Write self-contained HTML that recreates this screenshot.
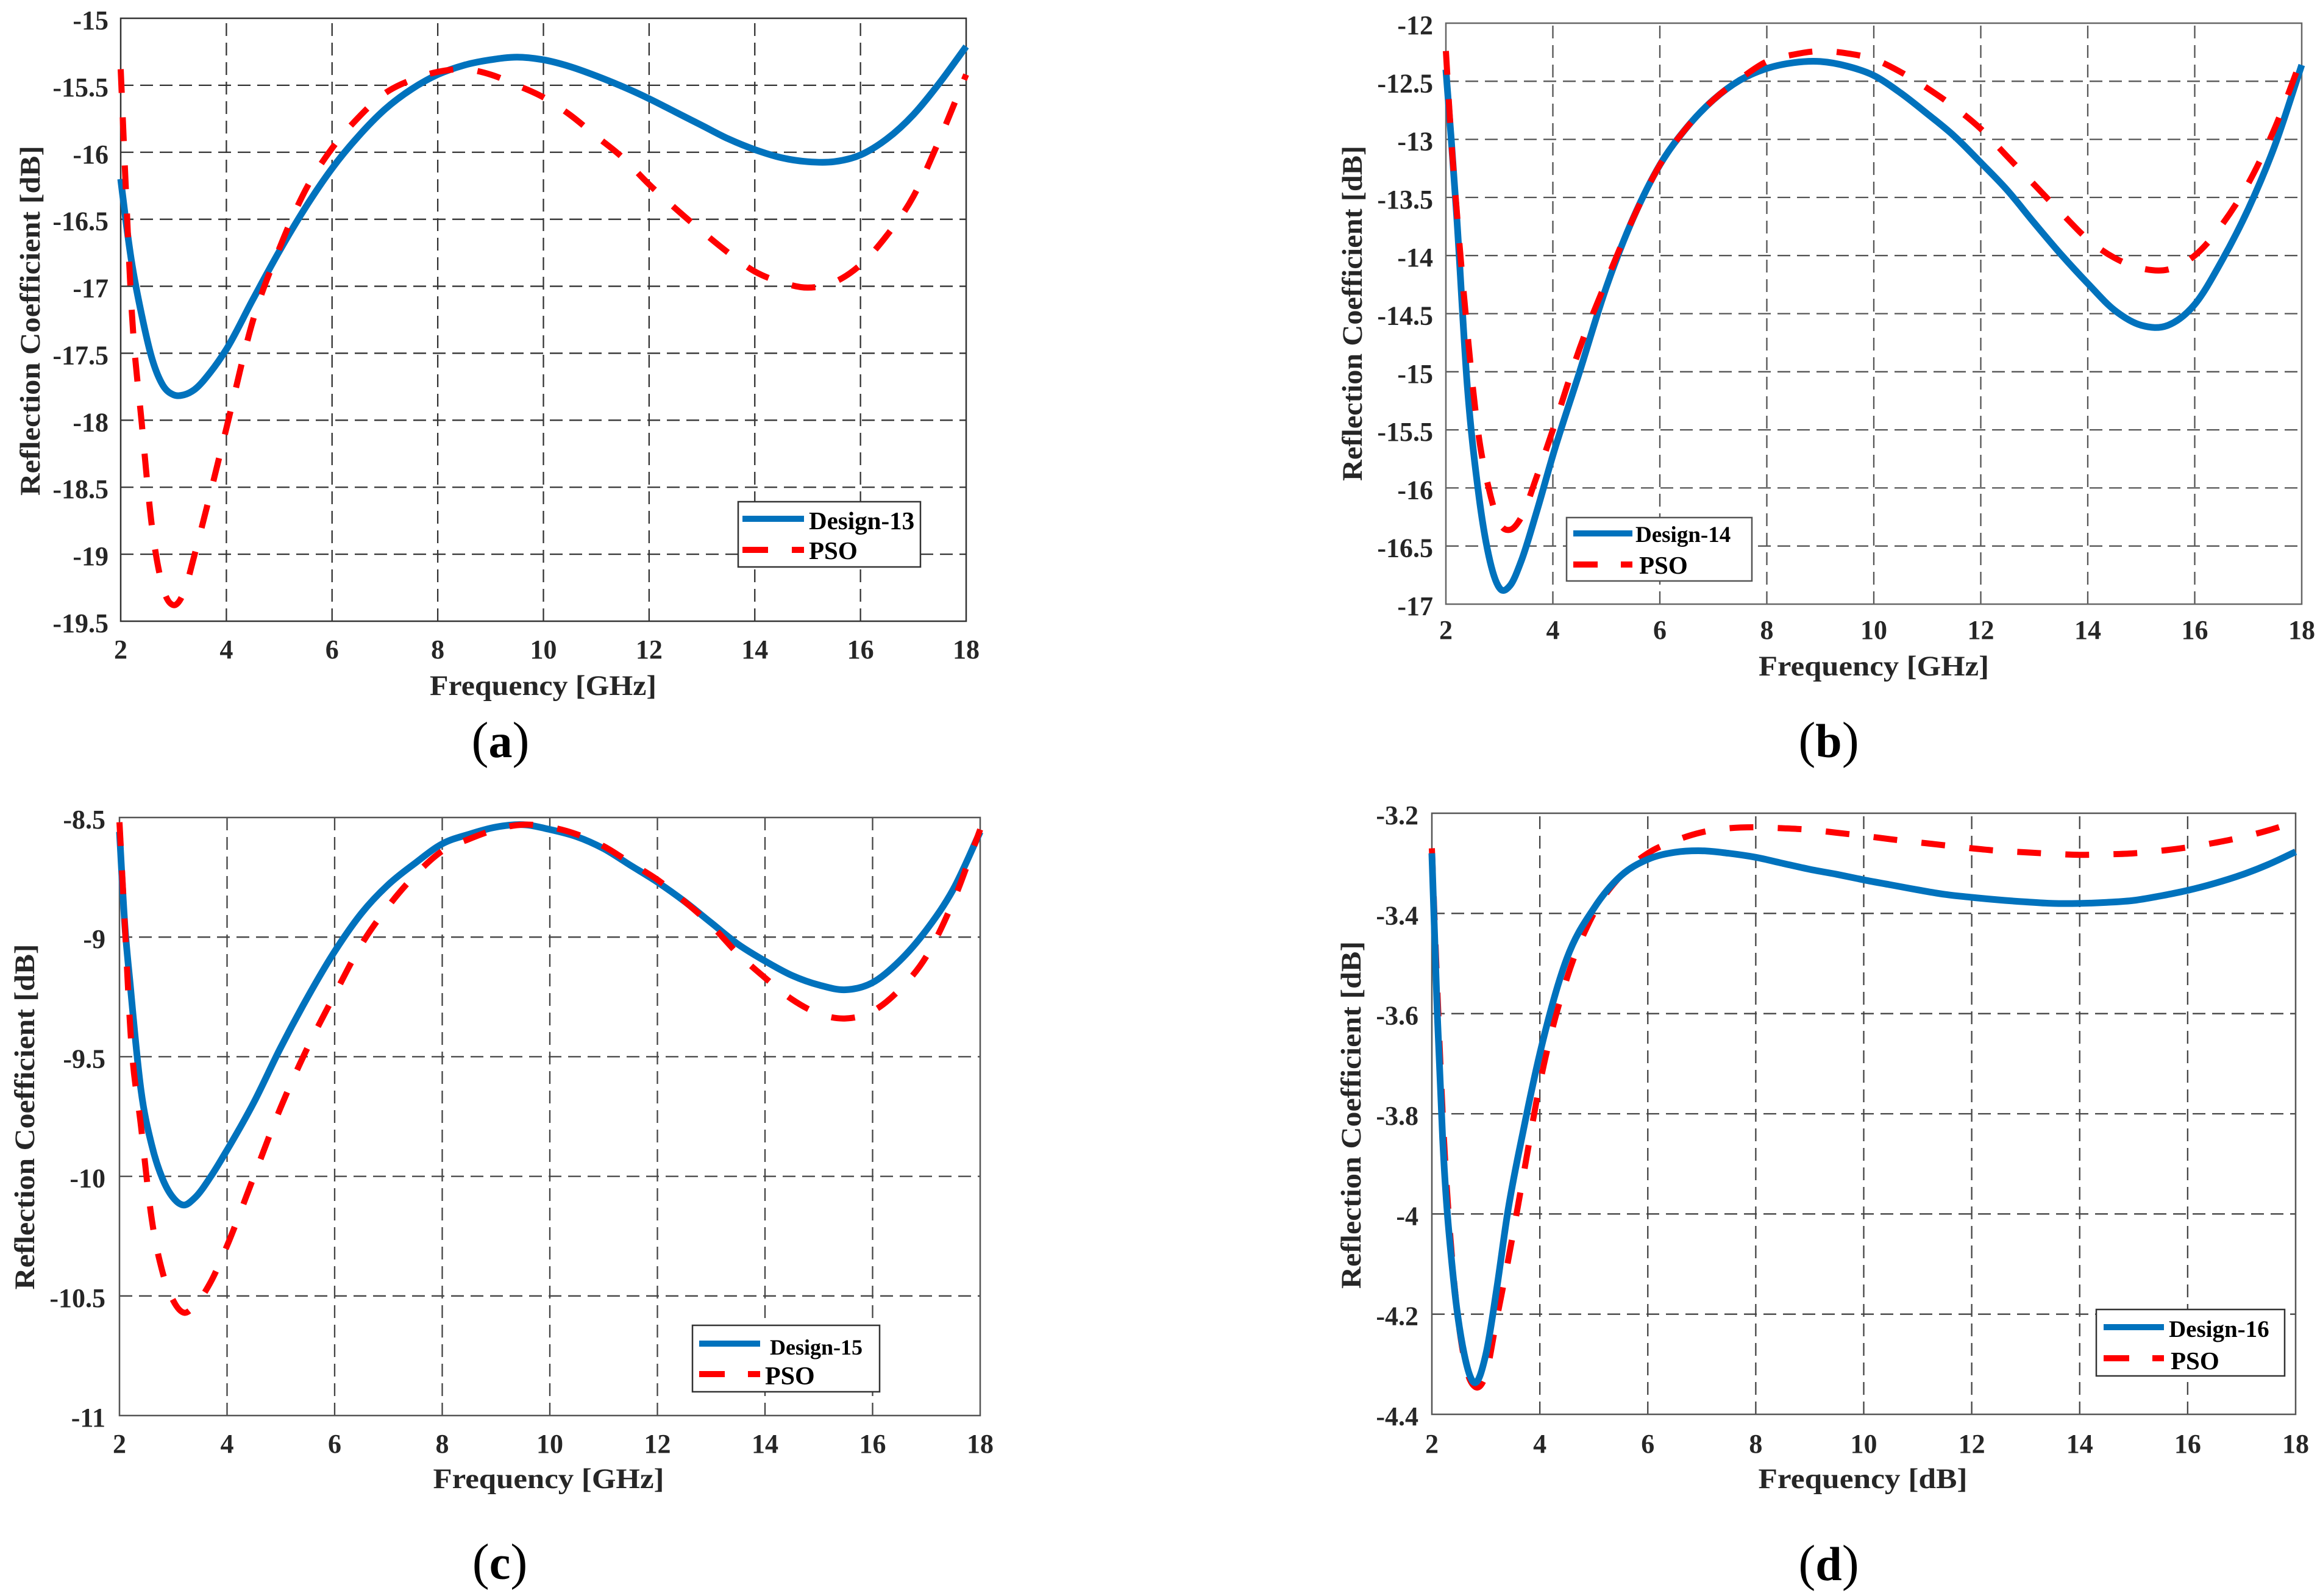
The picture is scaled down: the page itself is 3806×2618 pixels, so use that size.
<!DOCTYPE html>
<html lang="en">
<head>
<meta charset="utf-8">
<title>Reflection coefficient: Designs 13–16 vs PSO</title>
<style>
html,body{margin:0;padding:0;background:#fff;}
svg{display:block;}
text{font-family:"Liberation Serif",serif;font-weight:bold;fill:#262626;}
.tick{font-size:44px;}
.axis-title{font-size:47px;}
.legend-text{fill:#000;}
.caption{font-size:84px;font-weight:normal;fill:#000;text-anchor:middle;}
.caption tspan{font-weight:bold;fill:#000;font-size:78px;}
</style>
</head>
<body>
<svg id="figure" xmlns="http://www.w3.org/2000/svg" width="3806" height="2618" viewBox="0 0 3806 2618">
<rect x="0" y="0" width="3806" height="2618" fill="#fff"/>

<g id="panel-a"></g>
<g>
  <text class="axis-title" x="891" y="1140" text-anchor="middle" textLength="372" lengthAdjust="spacingAndGlyphs">Frequency [GHz]</text>
  <text class="axis-title" transform="translate(65,526) rotate(-90)" text-anchor="middle" textLength="574" lengthAdjust="spacingAndGlyphs">Reflection Coefficient [dB]</text>
  <g>
    <rect x="1211" y="823" width="299" height="107" fill="#fff" stroke="#333" stroke-width="2.5"/>
    <line x1="1218" x2="1319" y1="851" y2="851" stroke="#0072BD" stroke-width="10"/>
    <line x1="1218" x2="1319" y1="902" y2="902" stroke="#FF0000" stroke-width="10" stroke-dasharray="42 39"/>
    <text class="legend-text" x="1327" y="868" font-size="41">Design-13</text>
    <text class="legend-text" x="1327" y="917" font-size="41">PSO</text>
  </g>
  <text class="caption" x="821" y="1242">(<tspan>a</tspan>)</text>
</g>

<g id="panel-b"></g>
<g>
  <text class="axis-title" x="3074" y="1108" text-anchor="middle" textLength="378" lengthAdjust="spacingAndGlyphs">Frequency [GHz]</text>
  <text class="axis-title" transform="translate(2234,514) rotate(-90)" text-anchor="middle" textLength="550" lengthAdjust="spacingAndGlyphs">Reflection Coefficient [dB]</text>
  <g>
    <rect x="2570" y="849" width="304" height="104" fill="#fff" stroke="#555" stroke-width="2.5"/>
    <line x1="2581" x2="2678" y1="875" y2="875" stroke="#0072BD" stroke-width="10"/>
    <line x1="2581" x2="2678" y1="926" y2="926" stroke="#FF0000" stroke-width="10" stroke-dasharray="40 38"/>
    <text class="legend-text" x="2683" y="889" font-size="37">Design-14</text>
    <text class="legend-text" x="2689" y="941" font-size="41">PSO</text>
  </g>
  <text class="caption" x="3000" y="1242">(<tspan>b</tspan>)</text>
</g>

<g id="panel-c"></g>
<g>
  <text class="axis-title" x="900" y="2441" text-anchor="middle" textLength="379" lengthAdjust="spacingAndGlyphs">Frequency [GHz]</text>
  <text class="axis-title" transform="translate(56,1832) rotate(-90)" text-anchor="middle" textLength="567" lengthAdjust="spacingAndGlyphs">Reflection Coefficient [dB]</text>
  <g>
    <rect x="1136" y="2174" width="307" height="109" fill="#fff" stroke="#333" stroke-width="2.5"/>
    <line x1="1147" x2="1247" y1="2204" y2="2204" stroke="#0072BD" stroke-width="10"/>
    <line x1="1147" x2="1247" y1="2254" y2="2254" stroke="#FF0000" stroke-width="10" stroke-dasharray="42 38"/>
    <text class="legend-text" x="1263" y="2222" font-size="36">Design-15</text>
    <text class="legend-text" x="1255" y="2271" font-size="42">PSO</text>
  </g>
  <text class="caption" x="820" y="2590">(<tspan>c</tspan>)</text>
</g>

<g id="panel-d"></g>
<g>
  <text class="axis-title" x="3056" y="2441" text-anchor="middle" textLength="343" lengthAdjust="spacingAndGlyphs">Frequency [dB]</text>
  <text class="axis-title" transform="translate(2232,1829) rotate(-90)" text-anchor="middle" textLength="570" lengthAdjust="spacingAndGlyphs">Reflection Coefficient [dB]</text>
  <g>
    <rect x="3439" y="2148" width="309" height="109" fill="#fff" stroke="#333" stroke-width="2.5"/>
    <line x1="3451" x2="3550" y1="2177" y2="2177" stroke="#0072BD" stroke-width="10"/>
    <line x1="3451" x2="3550" y1="2228" y2="2228" stroke="#FF0000" stroke-width="10" stroke-dasharray="42 38"/>
    <text class="legend-text" x="3558" y="2193" font-size="39">Design-16</text>
    <text class="legend-text" x="3561" y="2246" font-size="41">PSO</text>
  </g>
  <text class="caption" x="3000" y="2592">(<tspan>d</tspan>)</text>
</g>
</svg>

<script>
// ---- Data ----
const frequencies = [2,2.1,2.2,2.4,2.6,2.8,3,3.2,3.4,3.7,4,4.5,5,5.5,6,6.5,7,7.5,8,8.5,9,9.5,10,10.5,11,11.5,12,12.5,13,13.5,14,14.5,15,15.5,16,16.5,17,17.5,18];
const xTickLabels = [2,4,6,8,10,12,14,16,18];

const yTicksA = ["-15","-15.5","-16","-16.5","-17","-17.5","-18","-18.5","-19","-19.5"];
const design13 = [-16.2,-16.52,-16.8,-17.22,-17.55,-17.74,-17.81,-17.81,-17.77,-17.64,-17.47,-17.1,-16.74,-16.41,-16.12,-15.88,-15.68,-15.53,-15.42,-15.35,-15.31,-15.29,-15.31,-15.36,-15.43,-15.51,-15.6,-15.7,-15.8,-15.9,-15.98,-16.04,-16.07,-16.07,-16.02,-15.9,-15.72,-15.48,-15.21];
const psoA = [-15.38,-16.3,-17.12,-18.03,-18.82,-19.25,-19.38,-19.28,-19.0,-18.54,-18.06,-17.26,-16.72,-16.28,-15.97,-15.74,-15.56,-15.46,-15.4,-15.38,-15.42,-15.5,-15.59,-15.72,-15.88,-16.04,-16.24,-16.42,-16.59,-16.75,-16.89,-16.97,-17.01,-16.97,-16.84,-16.62,-16.33,-15.9,-15.42];

const yTicksB = ["-12","-12.5","-13","-13.5","-14","-14.5","-15","-15.5","-16","-16.5","-17"];
const design14 = [-12.4,-13.0,-13.65,-15.12,-16.01,-16.58,-16.86,-16.84,-16.64,-16.2,-15.72,-15.0,-14.27,-13.68,-13.22,-12.9,-12.66,-12.49,-12.39,-12.34,-12.33,-12.37,-12.45,-12.6,-12.78,-12.97,-13.2,-13.44,-13.72,-13.99,-14.24,-14.47,-14.6,-14.6,-14.42,-14.05,-13.6,-13.05,-12.36];
const psoB = [-12.24,-13.0,-13.6,-14.65,-15.51,-16.0,-16.3,-16.36,-16.26,-15.9,-15.5,-14.8,-14.22,-13.68,-13.22,-12.9,-12.66,-12.48,-12.33,-12.27,-12.24,-12.26,-12.31,-12.42,-12.56,-12.72,-12.91,-13.15,-13.39,-13.63,-13.86,-14.02,-14.11,-14.12,-14.0,-13.74,-13.38,-12.9,-12.3];

const yTicksC = ["-8.5","-9","-9.5","-10","-10.5","-11"];
const design15 = [-8.56,-8.95,-9.2,-9.64,-9.87,-10.01,-10.09,-10.12,-10.09,-10.0,-9.89,-9.69,-9.46,-9.25,-9.06,-8.9,-8.78,-8.69,-8.61,-8.57,-8.54,-8.53,-8.55,-8.58,-8.63,-8.7,-8.77,-8.85,-8.94,-9.03,-9.1,-9.16,-9.2,-9.22,-9.19,-9.1,-8.97,-8.8,-8.56];
const psoC = [-8.52,-8.95,-9.38,-9.79,-10.18,-10.4,-10.52,-10.57,-10.54,-10.44,-10.29,-10.0,-9.71,-9.46,-9.24,-9.03,-8.87,-8.74,-8.64,-8.59,-8.55,-8.53,-8.54,-8.57,-8.62,-8.69,-8.76,-8.85,-8.95,-9.07,-9.17,-9.26,-9.32,-9.34,-9.31,-9.22,-9.08,-8.85,-8.55];

const yTicksD = ["-3.2","-3.4","-3.6","-3.8","-4","-4.2","-4.4"];
const design16 = [-3.28,-3.6,-3.85,-4.13,-4.28,-4.337,-4.28,-4.15,-4.0,-3.83,-3.68,-3.49,-3.39,-3.325,-3.292,-3.278,-3.275,-3.28,-3.288,-3.3,-3.312,-3.322,-3.333,-3.343,-3.353,-3.362,-3.368,-3.373,-3.377,-3.38,-3.38,-3.378,-3.374,-3.365,-3.354,-3.34,-3.323,-3.302,-3.277];
const psoD = [-3.27,-3.55,-3.8,-4.12,-4.29,-4.345,-4.32,-4.21,-4.1,-3.92,-3.74,-3.53,-3.4,-3.325,-3.28,-3.255,-3.238,-3.23,-3.228,-3.23,-3.233,-3.239,-3.245,-3.252,-3.258,-3.264,-3.27,-3.275,-3.278,-3.281,-3.283,-3.282,-3.28,-3.275,-3.268,-3.259,-3.248,-3.234,-3.217];

// ---- Rendering ----
const SVG_NS = 'http://www.w3.org/2000/svg';

function make(tag, parent, attrs, content) {
  const el = document.createElementNS(SVG_NS, tag);
  for (const k in attrs) el.setAttribute(k, attrs[k]);
  if (content !== undefined) el.textContent = content;
  parent.appendChild(el);
  return el;
}

// Cubic Hermite in x with three-point slopes, so curves stay smooth through unevenly spaced samples.
function splinePath(pts) {
  const n = pts.length;
  const secant = i => (pts[i + 1][1] - pts[i][1]) / (pts[i + 1][0] - pts[i][0]);
  const slope = i => {
    if (i === 0) return secant(0);
    if (i === n - 1) return secant(n - 2);
    const h0 = pts[i][0] - pts[i - 1][0], h1 = pts[i + 1][0] - pts[i][0];
    return (h1 * secant(i - 1) + h0 * secant(i)) / (h0 + h1);
  };
  let d = 'M' + pts[0][0].toFixed(1) + ' ' + pts[0][1].toFixed(1);
  for (let i = 0; i < n - 1; i++) {
    const p = pts[i], q = pts[i + 1];
    const h = (q[0] - p[0]) / 3;
    d += 'C' + (p[0] + h).toFixed(1) + ' ' + (p[1] + slope(i) * h).toFixed(1) + ' ' +
         (q[0] - h).toFixed(1) + ' ' + (q[1] - slope(i + 1) * h).toFixed(1) + ' ' +
         q[0].toFixed(1) + ' ' + q[1].toFixed(1);
  }
  return d;
}

function drawPanel(id, box, yTicks, blueValues, redValues, style) {
  const root = document.getElementById(id);
  const xMin = xTickLabels[0], xMax = xTickLabels[xTickLabels.length - 1];
  const yMax = parseFloat(yTicks[0]), yMin = parseFloat(yTicks[yTicks.length - 1]);
  const xScale = v => box.left + (v - xMin) / (xMax - xMin) * (box.right - box.left);
  const yScale = v => box.top + (yMax - v) / (yMax - yMin) * (box.bottom - box.top);

  const gridGroup = make('g', root, {});
  
  
  xTickLabels.slice(1, -1).forEach(v => {
    const line = make('line', gridGroup, {x1: xScale(v), x2: xScale(v), y1: box.bottom, y2: box.top, stroke: style.grid, 'stroke-width': 2.3, 'stroke-dasharray': '21 11'});
    
    
  });
  yTicks.slice(1, -1).forEach(t => {
    const y = yScale(parseFloat(t));
    const line = make('line', gridGroup, {x1: box.left, x2: box.right, y1: y, y2: y, stroke: style.grid, 'stroke-width': 2.3, 'stroke-dasharray': '21 11'});
    
    
  });

  const frame = make('rect', root, {x: box.left, y: box.top, width: box.right - box.left, height: box.bottom - box.top, fill: 'none', stroke: style.frame, 'stroke-width': 2.5});
  
  

  const points = values => frequencies.map((f, i) => [xScale(f), yScale(values[i])]);

  const drawBlue = () => {
    const blue = make('path', root, {d: splinePath(points(blueValues)), fill: 'none', stroke: '#0072BD', 'stroke-width': 11, 'stroke-linejoin': 'round'});
    
    
  };
  const drawRed = () => {
    const red = make('path', root, {d: splinePath(points(redValues)), fill: 'none', stroke: '#FF0000', 'stroke-width': 10, 'stroke-dasharray': '39 40', 'stroke-linejoin': 'round'});
    
    
  };
  if (style.blueOnTop) { drawRed(); drawBlue(); } else { drawBlue(); drawRed(); }

  xTickLabels.forEach(v => {
    const t = make('text', root, {class: 'tick', x: xScale(v), y: box.xTickBaseline, 'text-anchor': 'middle'}, String(v));
    
    
  });
  yTicks.forEach(label => {
    const t = make('text', root, {class: 'tick', x: box.yTickRight, y: yScale(parseFloat(label)) + 18, 'text-anchor': 'end'}, label);
    
    
  });
}

drawPanel('panel-a', {left: 198, right: 1585, top: 30, bottom: 1019, xTickBaseline: 1080, yTickRight: 178}, yTicksA, design13, psoA, {grid: '#333', frame: '#333', blueOnTop: false});
drawPanel('panel-b', {left: 2372, right: 3776, top: 38, bottom: 991, xTickBaseline: 1048, yTickRight: 2351}, yTicksB, design14, psoB, {grid: '#555', frame: '#666', blueOnTop: false});
drawPanel('panel-c', {left: 196, right: 1608, top: 1341, bottom: 2322, xTickBaseline: 2383, yTickRight: 173}, yTicksC, design15, psoC, {grid: '#444', frame: '#555', blueOnTop: false});
drawPanel('panel-d', {left: 2349, right: 3766, top: 1334, bottom: 2320, xTickBaseline: 2383, yTickRight: 2327}, yTicksD, design16, psoD, {grid: '#444', frame: '#555', blueOnTop: true});
</script>
</body>
</html>
